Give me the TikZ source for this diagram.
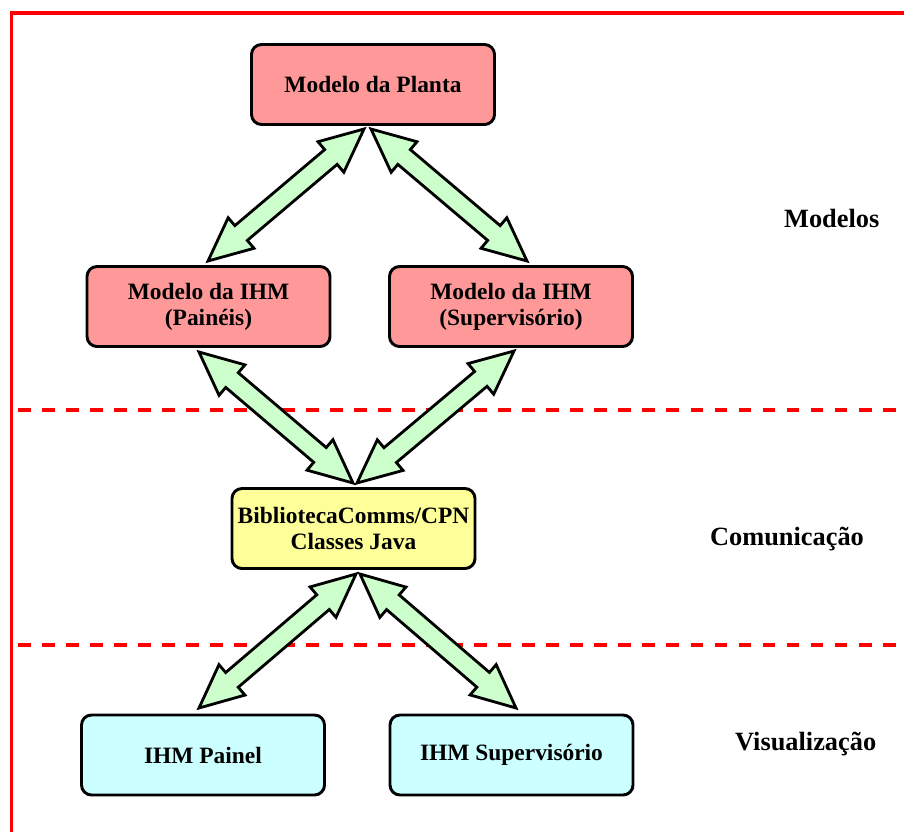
\documentclass[tikz,border=0pt]{standalone}
\usepackage{xcolor}
\usepackage{fontspec}
\usepackage{tikz}
\usetikzlibrary{calc}
\setmainfont{Liberation Serif}

\definecolor{rosa}{HTML}{FF9999}
\definecolor{amarelo}{HTML}{FFFF99}
\definecolor{ciano}{HTML}{CCFFFF}
\definecolor{verde}{HTML}{CCFFCC}

% fat double arrow between two named points
\newcommand{\setadupla}[2]{%
  \draw[seta] (#1)
    -- ($(#1)!1.3cm!(#2)!0.6cm!90:(#2)$)
    -- ($(#1)!1.3cm!(#2)!0.29cm!90:(#2)$)
    -- ($(#2)!1.3cm!(#1)!0.29cm!-90:(#1)$)
    -- ($(#2)!1.3cm!(#1)!0.6cm!-90:(#1)$)
    -- (#2)
    -- ($(#2)!1.3cm!(#1)!0.6cm!90:(#1)$)
    -- ($(#2)!1.3cm!(#1)!0.29cm!90:(#1)$)
    -- ($(#1)!1.3cm!(#2)!0.29cm!-90:(#2)$)
    -- ($(#1)!1.3cm!(#2)!0.6cm!-90:(#2)$)
    -- cycle;}

\begin{document}
\begin{tikzpicture}[x=0.03cm,y=-0.03cm,
    every node/.style={font=\fontsize{20}{22}\selectfont\bfseries},
    caixa/.style={draw,line width=2.5pt,rounded corners=0.3cm,
      minimum width=7.29cm,minimum height=2.4cm,align=center},
    camada/.style={anchor=base west,font=\fontsize{22.5}{24}\selectfont\bfseries},
    seta/.style={draw,fill=verde,line width=2.4pt,line join=miter},
    divisa/.style={red,line width=3.4pt,dash pattern=on 11pt off 9.5pt}]
      \useasboundingbox (0,0) rectangle (904,831);
      %%%%%%%%%%%%%%%%%%%%%%%%%%%%%%%%%%%%%%%%%%%%%%%%%%%%%%%%%%%%%%%%%%%%%%%%%%
      %%% BEGIN: FRAME.
      %%%%%%%%%%%%%%%%%%%%%%%%%%%%%%%%%%%%%%%%%%%%%%%%%%%%%%%%%%%%%%%%%%%%%%%%%%
      \draw[red,line width=3pt] (11.5,835) -- (11.5,13) -- (908,13);
      \foreach \y in {410,645}{
        \draw[divisa] (18,\y) -- (910,\y);
      }
      \node[camada] (modelos) at (780,227) {Modelos};
      \node[camada] (comunicacao) at (706,545) {Comunicação};
      \node[camada] (visualizacao) at (731,750) {Visualização};
      %%%%%%%%%%%%%%%%%%%%%%%%%%%%%%%%%%%%%%%%%%%%%%%%%%%%%%%%%%%%%%%%%%%%%%%%%%
      %%% END: FRAME.
      %%%%%%%%%%%%%%%%%%%%%%%%%%%%%%%%%%%%%%%%%%%%%%%%%%%%%%%%%%%%%%%%%%%%%%%%%%

      %%%%%%%%%%%%%%%%%%%%%%%%%%%%%%%%%%%%%%%%%%%%%%%%%%%%%%%%%%%%%%%%%%%%%%%%%%
      %%% BEGIN: BOXES.
      %%%%%%%%%%%%%%%%%%%%%%%%%%%%%%%%%%%%%%%%%%%%%%%%%%%%%%%%%%%%%%%%%%%%%%%%%%
      % Models.
      \node[caixa,fill=rosa] (planta) at (373,84.5) {Modelo da Planta};
      \node[caixa,fill=rosa] (paineis) at (208.5,306.5) {Modelo da IHM\\(Painéis)};
      \node[caixa,fill=rosa] (super) at (511,306.5) {Modelo da IHM\\(Supervisório)};

      % Communication.
      \node[caixa,fill=amarelo] (biblio) at (353.5,528.5) {BibliotecaComms/CPN\\Classes Java};

      % Visualisation.
      \node[caixa,fill=ciano] (painel) at (203,755) {IHM Painel};
      \node[caixa,fill=ciano] (supervisorio) at (511.5,755) {IHM Supervisório};
      %%%%%%%%%%%%%%%%%%%%%%%%%%%%%%%%%%%%%%%%%%%%%%%%%%%%%%%%%%%%%%%%%%%%%%%%%%
      %%% END: BOXES.
      %%%%%%%%%%%%%%%%%%%%%%%%%%%%%%%%%%%%%%%%%%%%%%%%%%%%%%%%%%%%%%%%%%%%%%%%%%

      %%%%%%%%%%%%%%%%%%%%%%%%%%%%%%%%%%%%%%%%%%%%%%%%%%%%%%%%%%%%%%%%%%%%%%%%%%
      %%% BEGIN: ARROWS.
      %%%%%%%%%%%%%%%%%%%%%%%%%%%%%%%%%%%%%%%%%%%%%%%%%%%%%%%%%%%%%%%%%%%%%%%%%%
      % Arrow ends on the box borders.
      \coordinate (plantaE) at (364,129);
      \coordinate (plantaD) at (371,129);
      \coordinate (paineisN) at (208,261);
      \coordinate (superN) at (527,261);
      \coordinate (paineisS) at (199,352);
      \coordinate (superS) at (514,351);
      \coordinate (biblioNE) at (353,483);
      \coordinate (biblioND) at (357,483);
      \coordinate (biblioSE) at (356,574);
      \coordinate (biblioSD) at (360,574);
      \coordinate (painelN) at (199,708);
      \coordinate (supervisorioN) at (516,708);

      \foreach \a/\b in {plantaE/paineisN, plantaD/superN,
                         paineisS/biblioNE, superS/biblioND,
                         biblioSE/painelN, biblioSD/supervisorioN}{
        \setadupla{\a}{\b}
      }
      %%%%%%%%%%%%%%%%%%%%%%%%%%%%%%%%%%%%%%%%%%%%%%%%%%%%%%%%%%%%%%%%%%%%%%%%%%
      %%% END: ARROWS.
      %%%%%%%%%%%%%%%%%%%%%%%%%%%%%%%%%%%%%%%%%%%%%%%%%%%%%%%%%%%%%%%%%%%%%%%%%%
\end{tikzpicture}
\end{document}
